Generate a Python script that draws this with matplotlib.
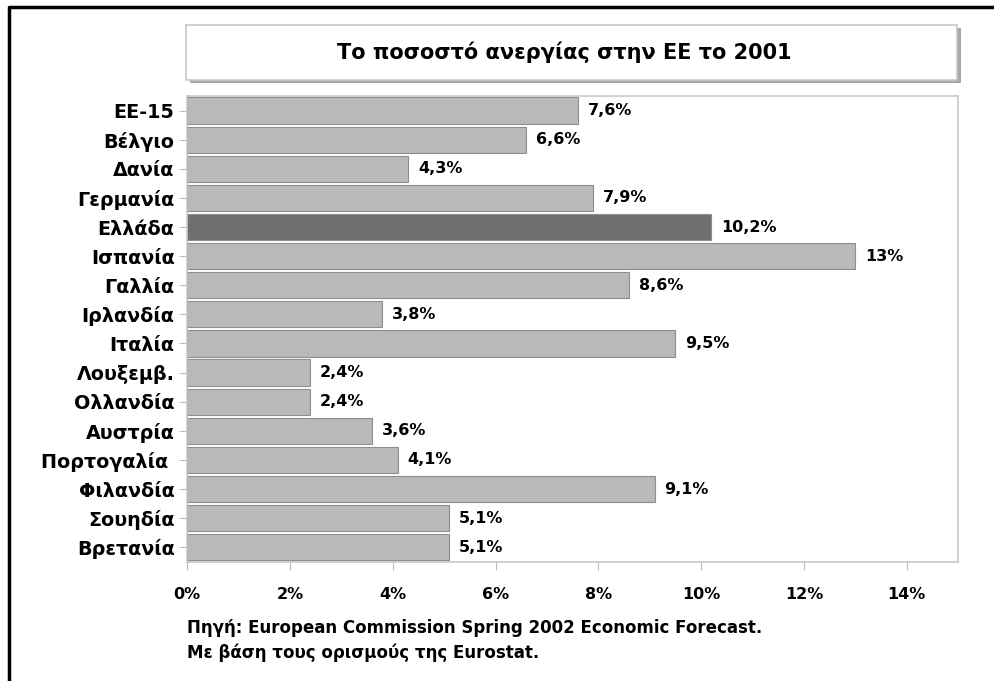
import matplotlib.pyplot as plt
from matplotlib.patches import Rectangle
from matplotlib.lines import Line2D

plt.rcParams['font.family'] = ['DejaVu Sans']
plt.rcParams['font.weight'] = 'bold'

countries = ['ΕΕ-15', 'Βέλγιο', 'Δανία', 'Γερμανία', 'Ελλάδα', 'Ισπανία', 'Γαλλία',
             'Ιρλανδία', 'Ιταλία', 'Λουξεμβ.', 'Ολλανδία', 'Αυστρία', 'Πορτογαλία ',
             'Φιλανδία', 'Σουηδία', 'Βρετανία']
rates = [7.6, 6.6, 4.3, 7.9, 10.2, 13.0, 8.6, 3.8, 9.5, 2.4, 2.4, 3.6, 4.1, 9.1, 5.1, 5.1]
rate_labels = ['7,6%', '6,6%', '4,3%', '7,9%', '10,2%', '13%', '8,6%', '3,8%', '9,5%',
               '2,4%', '2,4%', '3,6%', '4,1%', '9,1%', '5,1%', '5,1%']
highlight = 'Ελλάδα'
xticks = [0, 2, 4, 6, 8, 10, 12, 14]

title = 'Το ποσοστό ανεργίας στην ΕΕ το 2001'
source = ('Πηγή: European Commission Spring 2002 Economic Forecast.\n'
          'Με βάση τους ορισμούς της Eurostat.')

fig = plt.figure(figsize=(9.95, 6.81), dpi=100)
ax = fig.add_axes([0.188, 0.175, 0.775, 0.684])

colors = ['#6f6f6f' if c == highlight else '#b9b9b9' for c in countries]
ypos = list(range(len(countries)))
ax.barh(ypos, rates, height=0.9, color=colors, edgecolor='#8e8e8e', linewidth=0.8)

for y, v, lab in zip(ypos, rates, rate_labels):
    ax.annotate(lab, (v, y), xytext=(7, 0), textcoords='offset points',
                va='center', ha='left', fontsize=11.5, fontweight='bold')

ax.set_ylim(len(countries) - 0.5, -0.5)
ax.set_xlim(0, 15)
ax.set_yticks(ypos)
ax.set_yticklabels(countries, fontsize=13.8, fontweight='bold')
ax.set_xticks(xticks)
ax.set_xticklabels([f'{t}%' for t in xticks], fontsize=11.5, fontweight='bold')
ax.tick_params(axis='y', length=6, color='#bbbbbb', pad=3)
ax.tick_params(axis='x', length=6, color='#bbbbbb', pad=12)
for s in ax.spines.values():
    s.set_color('#c8c8c8')
    s.set_linewidth(1.2)

# title box with a drop shadow
fig.patches.append(Rectangle((0.191, 0.878), 0.775, 0.081, transform=fig.transFigure,
                             facecolor='#a8a8a8', edgecolor='none', zorder=1))
fig.patches.append(Rectangle((0.187, 0.883), 0.775, 0.081, transform=fig.transFigure,
                             facecolor='white', edgecolor='#c8c8c8', linewidth=1.2, zorder=2))
fig.text(0.567, 0.924, title, ha='center', va='center', fontsize=15, fontweight='bold')

fig.text(0.188, 0.059, source, ha='left', va='center', fontsize=12, fontweight='bold',
         linespacing=1.45)

# outer frame (top and left)
fig.add_artist(Line2D([0.009, 0.009, 1.0], [0.0, 0.99, 0.99], transform=fig.transFigure,
                      color='black', linewidth=2.5))

fig.savefig('out.png', dpi=100)
